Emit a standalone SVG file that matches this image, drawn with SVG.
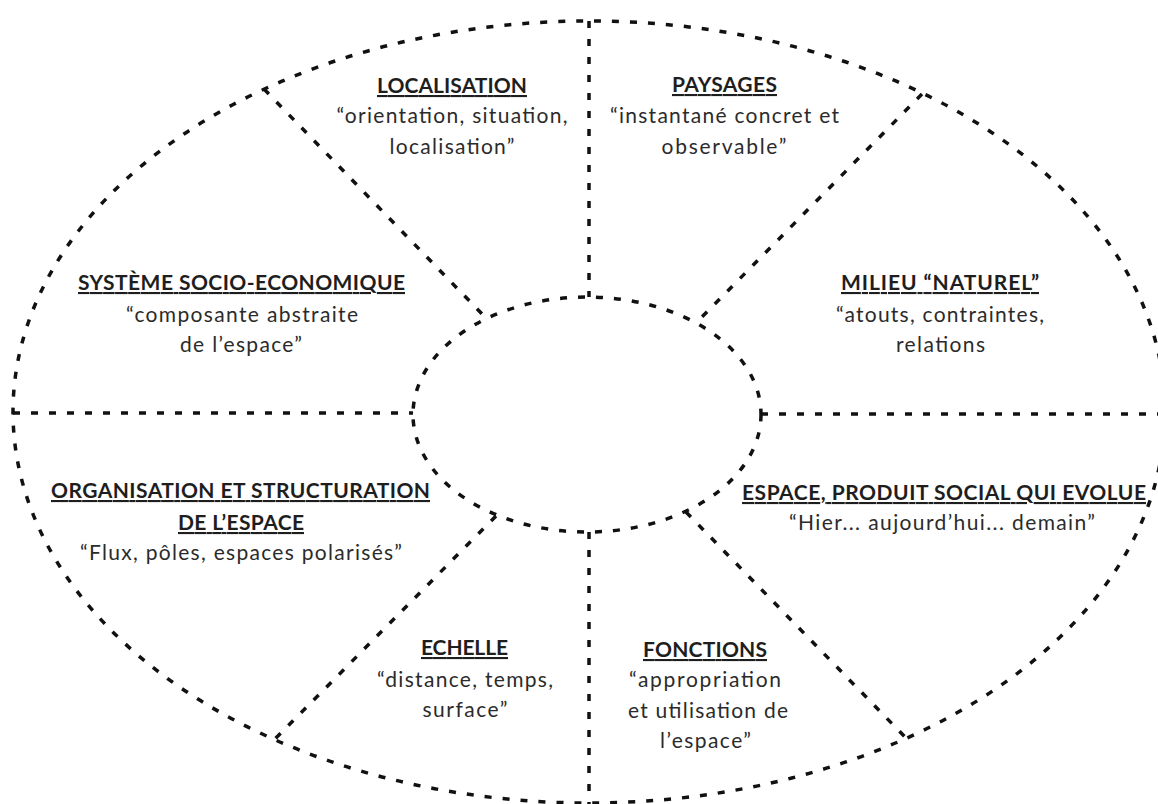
<svg xmlns="http://www.w3.org/2000/svg" width="1158" height="804" viewBox="0 0 1158 804">
<style>
.d{fill:none;stroke:#111;stroke-width:3.5;stroke-dasharray:7 11}
text{font-family:Lato,"Open Sans","Liberation Sans",sans-serif;font-size:21px;text-anchor:middle;fill:#2b2b2b}
.t{font-weight:bold;fill:#1e1e1e;text-decoration:underline}
</style>
<rect width="1158" height="804" fill="#fff"/>
<g id="connectors">
<ellipse class="d" cx="589" cy="412" rx="576" ry="391"/>
<ellipse class="d" cx="587" cy="414.5" rx="174" ry="117.5"/>
<line class="d" x1="589" y1="21" x2="589" y2="297"/>
<line class="d" x1="589" y1="532" x2="589" y2="804"/>
<line class="d" x1="13" y1="413" x2="413" y2="413"/>
<line class="d" x1="761" y1="414" x2="1158" y2="414"/>
<line class="d" x1="264" y1="89" x2="484" y2="316"/>
<line class="d" x1="922" y1="94" x2="698" y2="321"/>
<line class="d" x1="496" y1="516" x2="275" y2="739"/>
<line class="d" x1="686" y1="512" x2="906" y2="738"/>
</g>
<g id="localisation">
<text class="t" x="452" y="93" textLength="150">LOCALISATION</text>
<text x="452" y="123" textLength="231">“orientation, situation,</text>
<text x="452" y="154" textLength="125">localisation”</text>
</g>
<g id="paysages">
<text class="t" x="724.5" y="92" textLength="105">PAYSAGES</text>
<text x="724.5" y="123" textLength="229">“instantané concret et</text>
<text x="724" y="154" textLength="125">observable”</text>
</g>
<g id="systeme">
<text class="t" x="241.5" y="290" textLength="327">SYSTÈME SOCIO-ECONOMIQUE</text>
<text x="242" y="322" textLength="232">“composante abstraite</text>
<text x="241" y="352" textLength="122">de l’espace”</text>
</g>
<g id="milieu">
<text class="t" x="940" y="290" textLength="198">MILIEU “NATUREL”</text>
<text x="940" y="322" textLength="208">“atouts, contraintes,</text>
<text x="940.5" y="352" textLength="89">relations</text>
</g>
<g id="organisation">
<text class="t" x="240.5" y="498" textLength="379">ORGANISATION ET STRUCTURATION</text>
<text class="t" x="241" y="530" textLength="126">DE L’ESPACE</text>
<text x="241" y="560" textLength="322">“Flux, pôles, espaces polarisés”</text>
</g>
<g id="espace">
<text class="t" x="944" y="500" textLength="404">ESPACE, PRODUIT SOCIAL QUI EVOLUE</text>
<text x="942" y="530" textLength="306">“Hier... aujourd’hui... demain”</text>
</g>
<g id="echelle">
<text class="t" x="464.5" y="655" textLength="87">ECHELLE</text>
<text x="465" y="687" textLength="176">“distance, temps,</text>
<text x="465" y="717" textLength="85">surface”</text>
</g>
<g id="fonctions">
<text class="t" x="705" y="657" textLength="124">FONCTIONS</text>
<text x="705" y="687" textLength="152">“appropriation</text>
<text x="708" y="718" textLength="160">et utilisation de</text>
<text x="705.5" y="748" textLength="91">l’espace”</text>
</g>
</svg>
